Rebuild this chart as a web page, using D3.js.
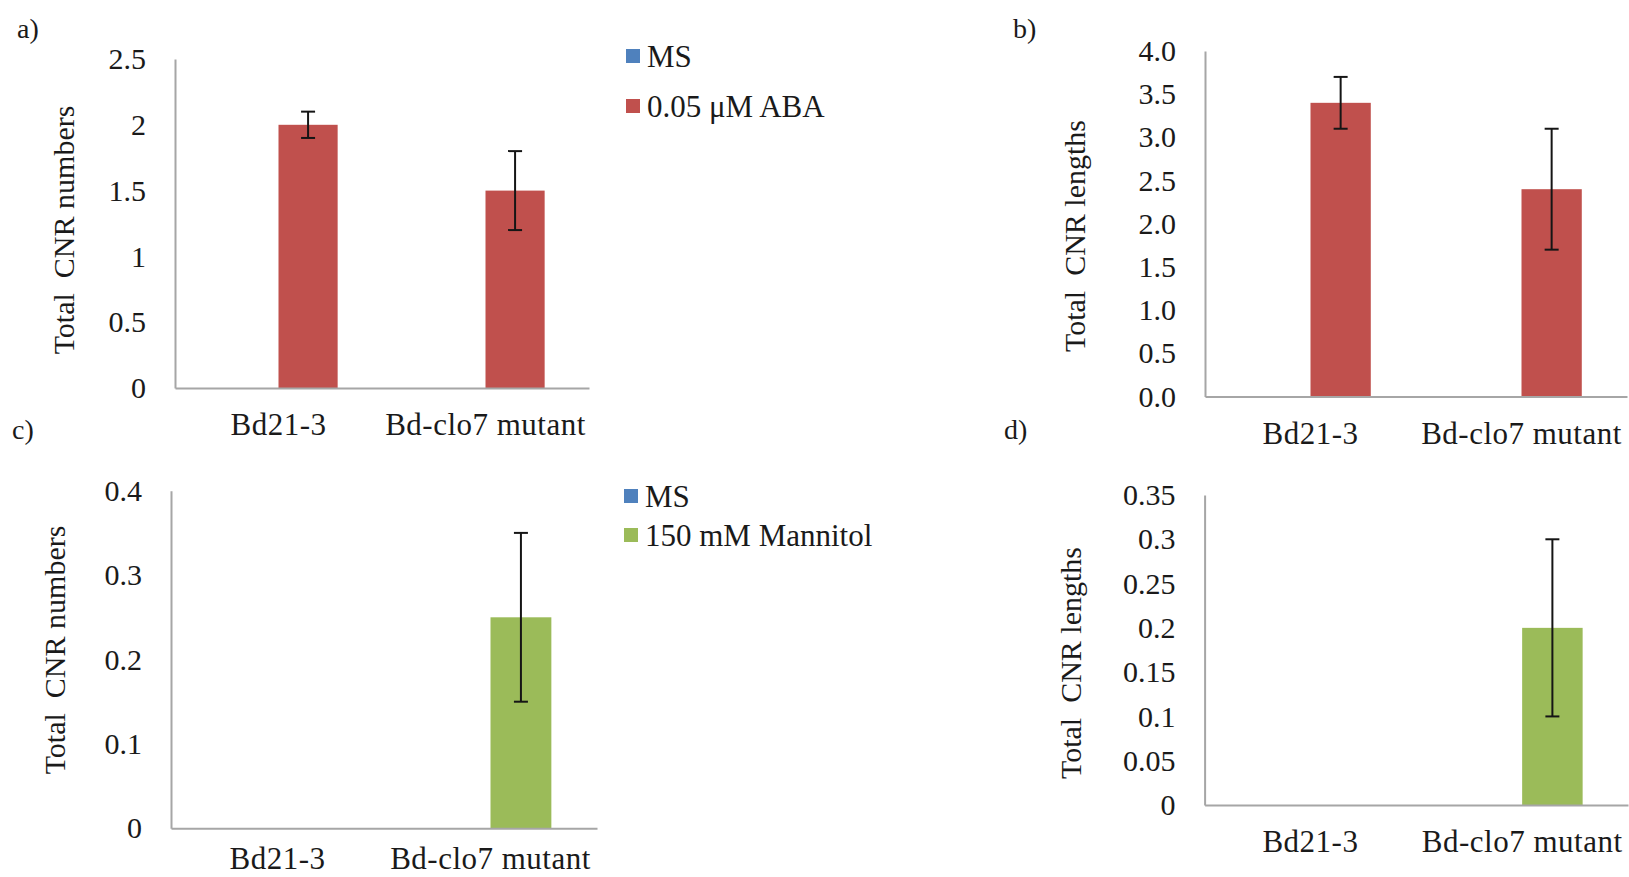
<!DOCTYPE html>
<html>
<head>
<meta charset="utf-8">
<script src="https://cdn.jsdelivr.net/npm/d3@7/dist/d3.min.js"></script>
<style>
  html, body { margin: 0; padding: 0; background: #ffffff; }
  svg { display: block; }
  text { font-family: "Liberation Serif", "Times New Roman", serif; fill: #1a1a1a; }
</style>
</head>
<body>
<svg id="fig" width="1629" height="877"></svg>
<script>
// ---- data ----
const categories = ["Bd21-3", "Bd-clo7 mutant"];

const abaSeries = ["MS", "0.05 μM ABA"];
const abaNumbersMS = [0, 0];
const abaNumbers = [2.0, 1.5];
const abaNumbersErr = [0.1, 0.3];
const abaLengthsMS = [0, 0];
const abaLengths = [3.4, 2.4];
const abaLengthsErr = [0.3, 0.7];

const mannitolSeries = ["MS", "150 mM Mannitol"];
const mannitolNumbersMS = [0, 0];
const mannitolNumbers = [0, 0.25];
const mannitolNumbersErr = [0, 0.1];
const mannitolLengthsMS = [0, 0];
const mannitolLengths = [0, 0.2];
const mannitolLengthsErr = [0, 0.1];

const ticksA = [0, 0.5, 1, 1.5, 2, 2.5];
const tickLabelsA = ["0", "0.5", "1", "1.5", "2", "2.5"];
const ticksB = [0, 0.5, 1, 1.5, 2, 2.5, 3, 3.5, 4];
const tickLabelsB = ["0.0", "0.5", "1.0", "1.5", "2.0", "2.5", "3.0", "3.5", "4.0"];
const ticksC = [0, 0.1, 0.2, 0.3, 0.4];
const tickLabelsC = ["0", "0.1", "0.2", "0.3", "0.4"];
const ticksD = [0, 0.05, 0.1, 0.15, 0.2, 0.25, 0.3, 0.35];
const tickLabelsD = ["0", "0.05", "0.1", "0.15", "0.2", "0.25", "0.3", "0.35"];

const msColor = "#4F81BD";
const abaColor = "#C0504D";
const mannitolColor = "#9BBB59";

// ---- panel layout ----
const panels = [
  { letter: "a)", letterX: 17, letterY: 38,
    x0: 175, x1: 589, yTop: 59, yBottom: 388,
    title: "Total  CNR numbers", titleX: 63, titleY: 230, labelY: 435,
    series: abaSeries, values: [abaNumbersMS, abaNumbers], err: abaNumbersErr,
    color: abaColor, ticks: ticksA, tickLabels: tickLabelsA,
    legend: { x: 626, rows: [56, 106] } },
  { letter: "b)", letterX: 1013, letterY: 38,
    x0: 1205, x1: 1627, yTop: 51, yBottom: 396.5,
    title: "Total  CNR lengths", titleX: 1074, titleY: 236, labelY: 444,
    series: abaSeries, values: [abaLengthsMS, abaLengths], err: abaLengthsErr,
    color: abaColor, ticks: ticksB, tickLabels: tickLabelsB, legend: null },
  { letter: "c)", letterX: 12, letterY: 439,
    x0: 171, x1: 597, yTop: 490.7, yBottom: 828.3,
    title: "Total  CNR numbers", titleX: 54, titleY: 650, labelY: 869,
    series: mannitolSeries, values: [mannitolNumbersMS, mannitolNumbers], err: mannitolNumbersErr,
    color: mannitolColor, ticks: ticksC, tickLabels: tickLabelsC,
    legend: { x: 624, rows: [496, 535] } },
  { letter: "d)", letterX: 1004, letterY: 439,
    x0: 1204.6, x1: 1628, yTop: 495, yBottom: 805,
    title: "Total  CNR lengths", titleX: 1070, titleY: 663, labelY: 852,
    series: mannitolSeries, values: [mannitolLengthsMS, mannitolLengths], err: mannitolLengthsErr,
    color: mannitolColor, ticks: ticksD, tickLabels: tickLabelsD, legend: null }
];

const svg = d3.select("#fig");
const axisColor = "#a6a6a6";

panels.forEach(p => {
  const g = svg.append("g");
  const colors = [msColor, p.color];
  const yMax = p.ticks[p.ticks.length - 1];

  const x = d3.scaleBand().domain(categories).range([p.x0, p.x1]).padding(0);
  const xs = d3.scaleBand().domain(p.series).range([0, x.bandwidth()])
    .paddingInner(0).paddingOuter(0.75);
  const y = d3.scaleLinear().domain([0, yMax]).range([p.yBottom, p.yTop]);

  // panel letter
  g.append("text").attr("x", p.letterX).attr("y", p.letterY)
    .style("font-size", "28px").text(p.letter);

  // bars
  p.series.forEach((s, si) => {
    g.append("g").selectAll("rect")
      .data(categories.map((c, ci) => ({ c, v: p.values[si][ci] })))
      .join("rect")
      .attr("x", d => x(d.c) + xs(s))
      .attr("width", xs.bandwidth())
      .attr("y", d => y(d.v))
      .attr("height", d => y(0) - y(d.v))
      .attr("fill", colors[si]);
  });

  // error bars on the treatment series
  const treat = p.series[1];
  const errData = categories.map((c, ci) => ({ c, v: p.values[1][ci], e: p.err[ci] }))
    .filter(d => d.e > 0);
  const eg = g.append("g").attr("stroke", "#151515").attr("stroke-width", 2);
  errData.forEach(d => {
    const cx = x(d.c) + xs(treat) + xs.bandwidth() / 2;
    eg.append("line").attr("x1", cx).attr("x2", cx)
      .attr("y1", y(d.v + d.e)).attr("y2", y(d.v - d.e));
    [d.v + d.e, d.v - d.e].forEach(v => {
      eg.append("line").attr("x1", cx - 7).attr("x2", cx + 7)
        .attr("y1", y(v)).attr("y2", y(v));
    });
  });

  // y axis
  const yAxis = d3.axisLeft(y).tickValues(p.ticks)
    .tickFormat((d, i) => p.tickLabels[i]).tickSize(0).tickPadding(29);
  const ya = g.append("g").attr("transform", `translate(${p.x0},0)`).call(yAxis);
  ya.select(".domain").attr("stroke", axisColor).attr("stroke-width", 2);
  ya.selectAll(".tick text").attr("fill", "#1a1a1a")
    .style("font-size", "30px")
    .style("font-family", '"Liberation Serif", "Times New Roman", serif');

  // x axis line
  const xa = d3.axisBottom(x).tickSize(0).tickFormat("");
  const xg = g.append("g").attr("transform", `translate(0,${p.yBottom})`).call(xa);
  xg.select(".domain").attr("stroke", axisColor).attr("stroke-width", 2);

  // category labels
  g.append("g").selectAll("text").data(categories).join("text")
    .attr("x", d => x(d) + x.bandwidth() / 2)
    .attr("y", p.labelY)
    .attr("text-anchor", "middle")
    .style("font-size", "31px")
    .style("letter-spacing", "0.5px")
    .text(d => d);

  // y title
  g.append("text")
    .attr("transform", `translate(${p.titleX},${p.titleY}) rotate(-90)`)
    .attr("text-anchor", "middle").attr("dy", "0.35em")
    .style("font-size", "30px").style("white-space", "pre")
    .text(p.title);

  // legend
  if (p.legend) {
    p.series.forEach((s, si) => {
      const cy = p.legend.rows[si];
      g.append("rect").attr("x", p.legend.x).attr("y", cy - 7)
        .attr("width", 14).attr("height", 14).attr("fill", colors[si]);
      g.append("text").attr("x", p.legend.x + 21).attr("y", cy)
        .attr("dy", "0.35em").style("font-size", "31px").text(s);
    });
  }
});
</script>
</body>
</html>
